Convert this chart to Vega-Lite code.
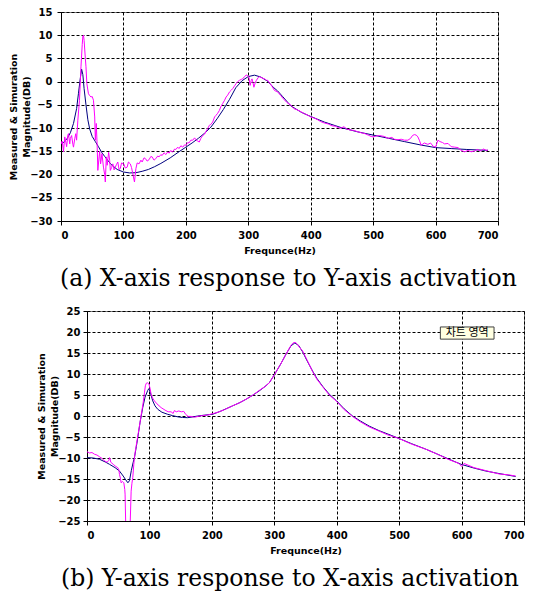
{
  "$schema": "https://vega.github.io/schema/vega-lite/v6.json",
  "background": "white",
  "padding": {"left": 8, "top": 6, "right": 2, "bottom": 2},
  "spacing": 14,
  "config": {
    "view": {"stroke": "#808080", "strokeWidth": 1},
    "axis": {
      "labelFont": "DejaVu Sans", "labelFontWeight": "bold", "labelFontSize": 10, "labelColor": "black", "labelOverlap": false,
      "titleFont": "DejaVu Sans", "titleFontWeight": "bold", "titleFontSize": 9.5, "titleColor": "black", "titleLineHeight": 13,
      "domainColor": "black", "tickColor": "black", "tickSize": 4,
      "grid": true, "gridColor": "black", "gridDash": [3, 2], "gridOpacity": 1, "gridWidth": 1
    },
    "title": {"font": "DejaVu Serif", "fontSize": 23.5, "fontWeight": "normal", "color": "black", "frame": "group"}
  },
  "datasets": {
    "topSim": [
      {"f":0,"v":-13.4},{"f":5,"v":-13},{"f":10,"v":-12.2},{"f":15,"v":-11},{"f":20,"v":-9},{"f":25,"v":-5.8},{"f":28,"v":-2.5},{"f":31,"v":0.8},{"f":33,"v":2.7},{"f":35,"v":1.5},{"f":37,"v":-1.5},{"f":40,"v":-5},{"f":43,"v":-8.2},{"f":46,"v":-10.2},{"f":50,"v":-11.8},{"f":55,"v":-12.9},{"f":60,"v":-14},{"f":65,"v":-15.2},{"f":70,"v":-16.1},{"f":80,"v":-17.8},{"f":90,"v":-18.9},{"f":100,"v":-19.45},{"f":110,"v":-19.65},{"f":120,"v":-19.6},{"f":130,"v":-19.3},{"f":140,"v":-18.9},{"f":150,"v":-18.3},{"f":160,"v":-17.6},{"f":175,"v":-16.4},{"f":190,"v":-15},{"f":200,"v":-14.1},{"f":210,"v":-13.2},{"f":220,"v":-12.2},{"f":230,"v":-11.1},{"f":240,"v":-9.8},{"f":250,"v":-8},{"f":260,"v":-6},{"f":270,"v":-3.8},{"f":280,"v":-1.3},{"f":290,"v":0.2},{"f":300,"v":1.1},{"f":310,"v":1.4},{"f":320,"v":1.0},{"f":331,"v":0.1},{"f":340,"v":-1.2},{"f":347,"v":-2.0},{"f":355,"v":-3.2},{"f":368,"v":-5.2},{"f":385,"v":-6.6},{"f":400,"v":-7.5},{"f":422,"v":-8.7},{"f":449,"v":-9.9},{"f":475,"v":-10.8},{"f":500,"v":-11.5},{"f":525,"v":-12.2},{"f":550,"v":-12.9},{"f":575,"v":-13.6},{"f":600,"v":-14.2},{"f":625,"v":-14.4},{"f":650,"v":-14.6},{"f":684,"v":-14.8}
    ],
    "topMeas": [
      {"f":0,"v":-13.4},{"f":2,"v":-12.8},{"f":4,"v":-15.1},{"f":6,"v":-11.9},{"f":8,"v":-13.2},{"f":9,"v":-14},{"f":11,"v":-11.5},{"f":12,"v":-11.2},{"f":14,"v":-13.4},{"f":15,"v":-12.2},{"f":17,"v":-11.6},{"f":19,"v":-13.5},{"f":20,"v":-14.1},{"f":22,"v":-12.3},{"f":23.7,"v":-11.2},{"f":25,"v":-12.6},{"f":27,"v":-8.3},{"f":29.6,"v":-4},{"f":32,"v":3.2},{"f":34,"v":8},{"f":35,"v":9.8},{"f":36,"v":10},{"f":37,"v":8.9},{"f":39,"v":5},{"f":40,"v":3.2},{"f":41.4,"v":-0.4},{"f":43,"v":-1.8},{"f":44,"v":-2.6},{"f":46,"v":-3.0},{"f":48,"v":-3.3},{"f":50,"v":-3.2},{"f":52,"v":-4},{"f":54,"v":-7.6},{"f":55,"v":-12.6},{"f":56.5,"v":-9},{"f":58,"v":-14.1},{"f":59,"v":-19.1},{"f":61,"v":-16.2},{"f":62,"v":-15},{"f":63.4,"v":-17.7},{"f":65.6,"v":-15.5},{"f":68,"v":-18.4},{"f":70,"v":-20},{"f":71,"v":-21.6},{"f":72.6,"v":-16.2},{"f":74,"v":-18},{"f":76.3,"v":-15.2},{"f":78,"v":-17},{"f":79,"v":-19.1},{"f":81,"v":-18.5},{"f":83,"v":-17.7},{"f":85,"v":-19},{"f":87,"v":-18.4},{"f":89,"v":-17.8},{"f":91,"v":-17.3},{"f":93,"v":-18.9},{"f":95,"v":-18.7},{"f":97,"v":-17.5},{"f":100.5,"v":-17.7},{"f":103,"v":-18.6},{"f":106,"v":-18.4},{"f":108,"v":-17.3},{"f":111,"v":-17.7},{"f":113,"v":-18.5},{"f":115,"v":-19.8},{"f":117.7,"v":-21.6},{"f":120,"v":-18.7},{"f":122,"v":-17.5},{"f":125,"v":-17.7},{"f":128,"v":-16.9},{"f":130,"v":-17.3},{"f":133,"v":-16.4},{"f":135.5,"v":-16.6},{"f":138,"v":-17.1},{"f":141,"v":-16.8},{"f":144,"v":-16.1},{"f":146,"v":-16.2},{"f":149,"v":-16.9},{"f":151.6,"v":-16.6},{"f":155,"v":-16},{"f":157,"v":-16.2},{"f":160,"v":-15.7},{"f":162,"v":-15.9},{"f":165,"v":-15.3},{"f":168,"v":-15.7},{"f":171,"v":-15.1},{"f":173,"v":-15.4},{"f":176,"v":-14.8},{"f":178.5,"v":-15.2},{"f":182,"v":-14.5},{"f":184,"v":-14.6},{"f":187,"v":-14.1},{"f":189,"v":-14.4},{"f":192,"v":-13.8},{"f":195,"v":-14.1},{"f":198,"v":-13.6},{"f":200,"v":-13.7},{"f":203,"v":-13.1},{"f":205,"v":-13.2},{"f":208,"v":-12.6},{"f":211,"v":-12.6},{"f":214,"v":-12.1},{"f":216,"v":-12.5},{"f":219,"v":-12.8},{"f":221.5,"v":-13},{"f":224,"v":-12.2},{"f":227,"v":-11.6},{"f":230,"v":-11.3},{"f":232,"v":-10.8},{"f":235,"v":-10.1},{"f":237.6,"v":-9.4},{"f":240,"v":-9.2},{"f":243,"v":-8.7},{"f":246,"v":-7.6},{"f":248,"v":-7.3},{"f":251,"v":-6.8},{"f":253.7,"v":-6.2},{"f":256,"v":-5.4},{"f":259,"v":-4.7},{"f":262,"v":-4},{"f":264.5,"v":-3.3},{"f":267,"v":-2.9},{"f":270,"v":-2.2},{"f":273,"v":-1.8},{"f":275,"v":-1.5},{"f":278,"v":-0.9},{"f":280.6,"v":-0.4},{"f":283,"v":0},{"f":286,"v":0.3},{"f":289,"v":0.5},{"f":291,"v":0.6},{"f":294,"v":1.1},{"f":296.6,"v":1.4},{"f":298,"v":1.4},{"f":301,"v":1},{"f":303,"v":-0.8},{"f":304.5,"v":0.2},{"f":306,"v":0.6},{"f":308,"v":-0.5},{"f":309,"v":-1.2},{"f":311,"v":-0.3},{"f":313,"v":0.3},{"f":316,"v":0.9},{"f":318,"v":1.1},{"f":322,"v":0.8},{"f":326,"v":0.6},{"f":329,"v":0.3},{"f":331,"v":0.3},{"f":334,"v":-0.3},{"f":338,"v":-1.0},{"f":342,"v":-1.9},{"f":347,"v":-2.2},{"f":352,"v":-3.0},{"f":357,"v":-3.8},{"f":362,"v":-4.5},{"f":368.6,"v":-5.1},{"f":373,"v":-5.8},{"f":379,"v":-6.1},{"f":384.6,"v":-6.5},{"f":390,"v":-6.9},{"f":395,"v":-7.2},{"f":400,"v":-7.6},{"f":405,"v":-7.8},{"f":410,"v":-8.1},{"f":416,"v":-8.6},{"f":422,"v":-8.9},{"f":428,"v":-9.1},{"f":434,"v":-9.5},{"f":440,"v":-9.6},{"f":444,"v":-9.9},{"f":448.7,"v":-10},{"f":453,"v":-9.7},{"f":458,"v":-10.2},{"f":463,"v":-10.4},{"f":469,"v":-10.5},{"f":475.5,"v":-10.8},{"f":481,"v":-11.0},{"f":487,"v":-11.2},{"f":492,"v":-11.5},{"f":497,"v":-11.8},{"f":500,"v":-11.9},{"f":505,"v":-11.7},{"f":510,"v":-11.6},{"f":518,"v":-11.8},{"f":524,"v":-12.2},{"f":530,"v":-12.0},{"f":534,"v":-12.4},{"f":539.6,"v":-12.5},{"f":545,"v":-12.4},{"f":550,"v":-12.6},{"f":555.7,"v":-12.6},{"f":560,"v":-12.2},{"f":563,"v":-11.6},{"f":566,"v":-11.4},{"f":569,"v":-11.5},{"f":571.7,"v":-11.9},{"f":574,"v":-12.6},{"f":577,"v":-13.7},{"f":582,"v":-13.2},{"f":587.7,"v":-13.5},{"f":592,"v":-13.2},{"f":596,"v":-13.9},{"f":600,"v":-14.1},{"f":603.8,"v":-12.6},{"f":607,"v":-12.9},{"f":611,"v":-13.1},{"f":614.5,"v":-13.4},{"f":620,"v":-13.3},{"f":625,"v":-14.0},{"f":630.5,"v":-14.1},{"f":636,"v":-14.2},{"f":641,"v":-14.8},{"f":646.6,"v":-15.1},{"f":652,"v":-14.8},{"f":657,"v":-15.1},{"f":662.6,"v":-14.9},{"f":667,"v":-14.6},{"f":672,"v":-14.9},{"f":677,"v":-14.5},{"f":681,"v":-14.8},{"f":684,"v":-14.7}
    ],
    "botSim": [
      {"f":0,"v":-9.9},{"f":10,"v":-10},{"f":20,"v":-10.3},{"f":30,"v":-11},{"f":36,"v":-11.5},{"f":45,"v":-12.3},{"f":52,"v":-13.1},{"f":58,"v":-14.3},{"f":62,"v":-15.2},{"f":65.5,"v":-15.9},{"f":68,"v":-15.4},{"f":71,"v":-13},{"f":74,"v":-11},{"f":76,"v":-9.9},{"f":79,"v":-7.3},{"f":81.3,"v":-5.2},{"f":85,"v":-1.5},{"f":89.3,"v":2},{"f":93,"v":4.5},{"f":97.3,"v":6.1},{"f":99,"v":6.5},{"f":101,"v":5.8},{"f":105.3,"v":3.6},{"f":109,"v":2.4},{"f":113.3,"v":1.6},{"f":120,"v":0.9},{"f":129.3,"v":0.4},{"f":137,"v":0.1},{"f":145.3,"v":-0.2},{"f":153,"v":-0.35},{"f":161.3,"v":-0.4},{"f":170,"v":-0.2},{"f":177.3,"v":0},{"f":188,"v":0.2},{"f":201,"v":0.4},{"f":215,"v":1.2},{"f":233,"v":2.4},{"f":245,"v":3.2},{"f":255,"v":4},{"f":266,"v":5},{"f":276,"v":6},{"f":285,"v":7},{"f":292,"v":7.9},{"f":300,"v":9.8},{"f":310,"v":12.3},{"f":318.7,"v":14.7},{"f":326.7,"v":16.7},{"f":333,"v":17.4},{"f":339,"v":16.8},{"f":345.3,"v":15.3},{"f":352,"v":13.3},{"f":361.3,"v":10.7},{"f":368,"v":9},{"f":377.3,"v":7.1},{"f":388,"v":5.2},{"f":399.7,"v":3.6},{"f":412,"v":1.7},{"f":425.3,"v":0},{"f":438,"v":-1.2},{"f":452,"v":-2.4},{"f":468,"v":-3.5},{"f":482,"v":-4.3},{"f":498.9,"v":-5.3},{"f":520,"v":-6.6},{"f":542.7,"v":-7.9},{"f":560,"v":-9},{"f":580,"v":-10.3},{"f":599.2,"v":-11.5},{"f":620,"v":-12.4},{"f":638.7,"v":-13.1},{"f":660,"v":-13.7},{"f":686.7,"v":-14.4}
    ],
    "botMeas": [
      {"f":0,"v":-8.5},{"f":4,"v":-8.8},{"f":8,"v":-8.7},{"f":12,"v":-9.1},{"f":16,"v":-9.3},{"f":20,"v":-9.7},{"f":24,"v":-10.1},{"f":28,"v":-10.7},{"f":32,"v":-11},{"f":35,"v":-10.6},{"f":36,"v":-9.9},{"f":37.5,"v":-10.5},{"f":38,"v":-11},{"f":42,"v":-11.5},{"f":46,"v":-12},{"f":49.3,"v":-12.3},{"f":51,"v":-12.8},{"f":52,"v":-13.9},{"f":53.5,"v":-14.8},{"f":54.7,"v":-15.9},{"f":57,"v":-15.6},{"f":59,"v":-15.9},{"f":60.5,"v":-17.5},{"f":61,"v":-18.6},{"f":61.9,"v":-25},{"f":62.5,"v":-32},{"f":68.5,"v":-32},{"f":69.3,"v":-25},{"f":70.7,"v":-17.9},{"f":72,"v":-16},{"f":73.3,"v":-14.7},{"f":75,"v":-11.5},{"f":76,"v":-9.9},{"f":78,"v":-7.8},{"f":80,"v":-6},{"f":82,"v":-4.2},{"f":84,"v":-2.4},{"f":86,"v":-0.5},{"f":88,"v":1.3},{"f":90,"v":3.2},{"f":92,"v":5.5},{"f":93.5,"v":7.2},{"f":95,"v":7.8},{"f":97,"v":7.9},{"f":99,"v":7.7},{"f":101,"v":6.6},{"f":102.7,"v":5.2},{"f":105,"v":4.3},{"f":108,"v":3.6},{"f":112,"v":2.9},{"f":118.7,"v":2},{"f":125,"v":1.4},{"f":130,"v":1.0},{"f":134.7,"v":1},{"f":138,"v":0.6},{"f":140,"v":1.3},{"f":143,"v":1.0},{"f":147,"v":1.2},{"f":151,"v":1.0},{"f":155,"v":1.1},{"f":158,"v":0.4},{"f":162,"v":-0.1},{"f":167,"v":-0.1},{"f":172,"v":-0.3},{"f":178,"v":-0.1},{"f":185,"v":0.1},{"f":192,"v":0.2},{"f":200,"v":0.5},{"f":210,"v":0.9},{"f":220,"v":1.5},{"f":233,"v":2.4},{"f":245,"v":3.2},{"f":255,"v":4},{"f":266,"v":5},{"f":276,"v":6.1},{"f":285,"v":7},{"f":292,"v":7.9},{"f":300,"v":9.8},{"f":310,"v":12.3},{"f":318.7,"v":14.7},{"f":326.7,"v":16.8},{"f":331,"v":17.5},{"f":334,"v":17.5},{"f":337,"v":17.1},{"f":340,"v":16.4},{"f":345.3,"v":15.5},{"f":352,"v":13.5},{"f":361.3,"v":10.6},{"f":368,"v":8.8},{"f":377.3,"v":7.0},{"f":388,"v":5.0},{"f":399.7,"v":3.5},{"f":412,"v":1.5},{"f":425.3,"v":-0.1},{"f":438,"v":-1.4},{"f":452,"v":-2.6},{"f":468,"v":-3.6},{"f":482,"v":-4.5},{"f":498.9,"v":-5.3},{"f":520,"v":-6.7},{"f":542.7,"v":-7.9},{"f":560,"v":-9.0},{"f":580,"v":-10.4},{"f":596,"v":-11.3},{"f":600,"v":-12.0},{"f":604,"v":-11.3},{"f":620,"v":-12.3},{"f":638.7,"v":-13.0},{"f":660,"v":-13.8},{"f":675,"v":-14.0},{"f":686.7,"v":-14.3}
    ],
    "tag": [{"x1":566,"x2":652,"y1":18.3,"y2":21.2,"xm":609,"ym":19.75,"t":"차트 영역"}],
    "blank": [{"k":0}]
  },
  "vconcat": [
    {
      "hconcat": [
        {
          "width": 437, "height": 209,
          "title": {"text": "(a) X-axis response to Y-axis activation", "orient": "bottom", "anchor": "start", "dx": -1, "offset": 12},
          "layer": [
            {
              "data": {"name": "topSim"},
              "mark": {"type": "line", "color": "#000080", "strokeWidth": 1, "clip": true},
              "encoding": {
                "x": {"field": "f", "type": "quantitative", "scale": {"domain": [0, 700], "nice": false},
                      "axis": {"values": [0,100,200,300,400,500,600,700], "tickCount": 20, "title": "Frequnce(Hz)", "labelPadding": 5, "titlePadding": 5}},
                "y": {"field": "v", "type": "quantitative", "scale": {"domain": [-30, 15], "nice": false},
                      "axis": {"values": [-30,-25,-20,-15,-10,-5,0,5,10,15], "tickCount": 20, "labelOverlap": false, "title": ["Measured & Simuration", "Magnitude(DB)"], "labelPadding": 5, "titlePadding": -2}}
              }
            },
            {
              "data": {"name": "topMeas"},
              "mark": {"type": "line", "color": "#FF00FF", "strokeWidth": 1, "clip": true},
              "encoding": {
                "x": {"field": "f", "type": "quantitative"},
                "y": {"field": "v", "type": "quantitative"}
              }
            }
          ]
        }
      ]
    },
    {
      "spacing": 0,
      "bounds": "flush",
      "hconcat": [
        {
          "width": 26, "height": 10,
          "view": {"stroke": null},
          "data": {"name": "blank"},
          "mark": {"type": "point", "opacity": 0}
        },
        {
          "width": 437, "height": 210,
          "title": {"text": "(b) Y-axis response to X-axis activation", "orient": "bottom", "anchor": "start", "dx": -26, "offset": 12},
          "layer": [
            {
              "data": {"name": "botSim"},
              "mark": {"type": "line", "color": "#000080", "strokeWidth": 1, "clip": true},
              "encoding": {
                "x": {"field": "f", "type": "quantitative", "scale": {"domain": [0, 700], "nice": false},
                      "axis": {"values": [0,100,200,300,400,500,600,700], "tickCount": 20, "title": "Frequnce(Hz)", "labelPadding": 5, "titlePadding": 5}},
                "y": {"field": "v", "type": "quantitative", "scale": {"domain": [-25, 25], "nice": false},
                      "axis": {"values": [-25,-20,-15,-10,-5,0,5,10,15,20,25], "tickCount": 20, "labelOverlap": false, "title": ["Measured & Simuration", "Magnitude(DB)"], "labelPadding": 3, "titlePadding": -2}}
              }
            },
            {
              "data": {"name": "botMeas"},
              "mark": {"type": "line", "color": "#FF00FF", "strokeWidth": 1, "clip": true},
              "encoding": {
                "x": {"field": "f", "type": "quantitative"},
                "y": {"field": "v", "type": "quantitative"}
              }
            },
            {
              "data": {"name": "tag"},
              "mark": {"type": "rect", "fill": "#FFFFE1", "stroke": "#404040", "strokeWidth": 1},
              "encoding": {
                "x": {"field": "x1", "type": "quantitative"},
                "x2": {"field": "x2"},
                "y": {"field": "y1", "type": "quantitative"},
                "y2": {"field": "y2"}
              }
            },
            {
              "data": {"name": "tag"},
              "mark": {"type": "text", "font": "Noto Sans CJK KR", "fontSize": 11, "color": "black", "align": "center", "baseline": "middle"},
              "encoding": {
                "x": {"field": "xm", "type": "quantitative"},
                "y": {"field": "ym", "type": "quantitative"},
                "text": {"field": "t"}
              }
            }
          ]
        }
      ]
    }
  ]
}
